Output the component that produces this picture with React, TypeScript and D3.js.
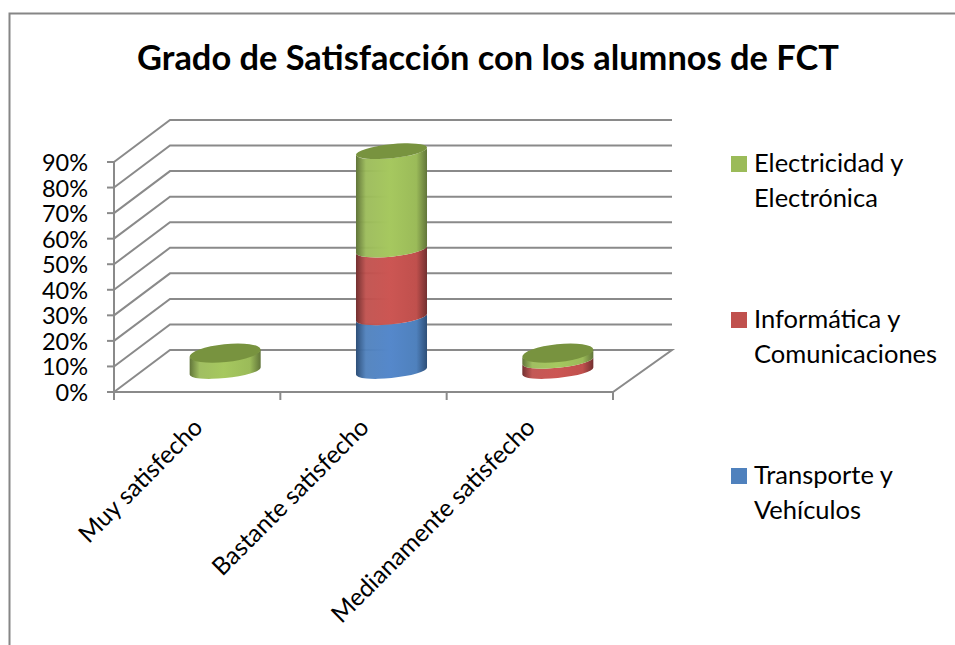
import React from "react";
import * as d3 from "d3";

const title = "Grado de Satisfacción con los alumnos de FCT";
const categories = ["Muy satisfecho", "Bastante satisfecho", "Medianamente satisfecho"];
const transporte = [0, 21, 0];
const informatica = [0, 26.5, 4];
const electricidad = [7, 38.5, 3];
const yTicks = [0, 10, 20, 30, 40, 50, 60, 70, 80, 90];
const seriesNames = ["Transporte y Vehículos", "Informática y Comunicaciones", "Electricidad y Electrónica"];
const legendLines = [["Electricidad y", "Electrónica"], ["Informática y", "Comunicaciones"], ["Transporte y", "Vehículos"]];

const FONT = "Lato, Carlito, 'Open Sans', sans-serif";
const GRID = "#8a8a8a";
const dx = 56, dy = -42;
const x = d3.scaleBand<string>().domain(categories).range([114, 613]);
const y = d3.scaleLinear().domain([0, 90]).range([392, 162]);
const RX = 35.7, RY = 7, ROT = -6;
const topRy = d3.scaleLinear().domain([7, 86]).range([9, 7]);

const palette = [
  { id: "blue", base: "#4F81BD", light: "#5588CB", dark: "#2E4F78" },
  { id: "red", base: "#C0504D", light: "#CC5653", dark: "#733030" },
  { id: "green", base: "#9BBB59", light: "#A6C85F", dark: "#617539", top: "#78933F" },
];
const series = [transporte, informatica, electricidad];

function bodyPath(cx: number, yBot: number, yTop: number) {
  const th = (ROT * Math.PI) / 180;
  const t = Math.atan2(-RY * Math.sin(th), RX * Math.cos(th));
  const ex = RX * Math.cos(t) * Math.cos(th) - RY * Math.sin(t) * Math.sin(th);
  const ey = RX * Math.cos(t) * Math.sin(th) + RY * Math.sin(t) * Math.cos(th);
  const a = (px: number, py: number, sweep: number) => `A${RX} ${RY} ${ROT} 0 ${sweep} ${px} ${py}`;
  return [
    `M${cx - ex} ${yTop - ey}`,
    `L${cx - ex} ${yBot - ey}`,
    a(cx + ex, yBot + ey, 0),
    `L${cx + ex} ${yTop + ey}`,
    a(cx - ex, yTop - ey, 1),
    "Z",
  ].join(" ");
}

export default function App() {
  const stacked = d3.stack<number>().keys([0, 1, 2] as any).value((i: number, k: any) => series[k][i])(
    categories.map((_, i) => i)
  );
  return (
    <svg width={955} height={645} style={{ position: "absolute", left: 0, top: 0, background: "#fff" }} fontFamily={FONT}>
      <defs>
        {palette.map((p) => (
          <linearGradient key={p.id} id={p.id} x1="0" x2="1" y1="0" y2="0">
            <stop offset="0" stopColor={p.dark} />
            <stop offset="0.14" stopColor={p.base} stopOpacity={0.95} />
            <stop offset="0.48" stopColor={p.light} />
            <stop offset="0.85" stopColor={p.base} />
            <stop offset="1" stopColor={p.dark} />
          </linearGradient>
        ))}
      </defs>
      <path d="M955 13.5H9.5V645" fill="none" stroke="#868686" strokeWidth={2} />
      <text x={488} y={70} textAnchor="middle" fontSize={34.4} fontWeight={700} fill="#000">{title}</text>

      {yTicks.map((t) => (
        <g key={t} stroke={GRID} strokeWidth={2} fill="none">
          {t > 0 && <path d={`M${114} ${y(t)}L${114 + dx} ${y(t) + dy}H672`} />}
          <line x1={107} x2={114} y1={y(t)} y2={y(t)} />
        </g>
      ))}
      <path d={`M114 ${y(90)}V400M114 392L${114 + dx} ${392 + dy}H672L613 392H114`} fill="none" stroke={GRID} strokeWidth={2} />
      {[...x.domain().map((c) => x(c)!), 613].map((v) => (
        <line key={v} x1={v} x2={v} y1={392} y2={400} stroke={GRID} strokeWidth={2} />
      ))}
      {yTicks.map((t) => (
        <text key={t} x={88} y={y(t) + 9} textAnchor="end" fontSize={23.5} fill="#000">{t}%</text>
      ))}

      {categories.map((c, i) => {
        const cx = x(c)! + x.bandwidth() / 2 + dx / 2;
        const top = Math.max(...stacked.map((s) => s[i][1]));
        const cyTop = y(top) + dy / 2;
        return (
          <g key={c}>
            {stacked.map((s, k) => {
              const [v0, v1] = s[i];
              if (v1 <= v0) return null;
              return <path key={seriesNames[k]} d={bodyPath(cx, y(v0) + dy / 2, y(v1) + dy / 2)} fill={`url(#${palette[k].id})`} />;
            })}
            <ellipse cx={cx} cy={cyTop} rx={RX} ry={topRy(top)} transform={`rotate(${ROT} ${cx} ${cyTop})`} fill={palette[2].top} />
          </g>
        );
      })}

      {categories.map((c) => {
        const tx = x(c)! + x.bandwidth() / 2 - 7;
        return (
          <text key={c} transform={`translate(${tx} 415) rotate(-45)`} textAnchor="end" dy="0.8em" fontSize={24.5} fill="#000">{c}</text>
        );
      })}

      {legendLines.map((lines, i) => {
        const c = palette[2 - i];
        const sy = [156, 312, 468][i];
        return (
          <g key={lines[0]}>
            <rect x={731} y={sy} width={16} height={16} fill={c.base} />
            {lines.map((l, j) => (
              <text key={l} x={754} y={sy + 16 + j * 34.5} fontSize={25.5} fill="#000">{l}</text>
            ))}
          </g>
        );
      })}
    </svg>
  );
}
